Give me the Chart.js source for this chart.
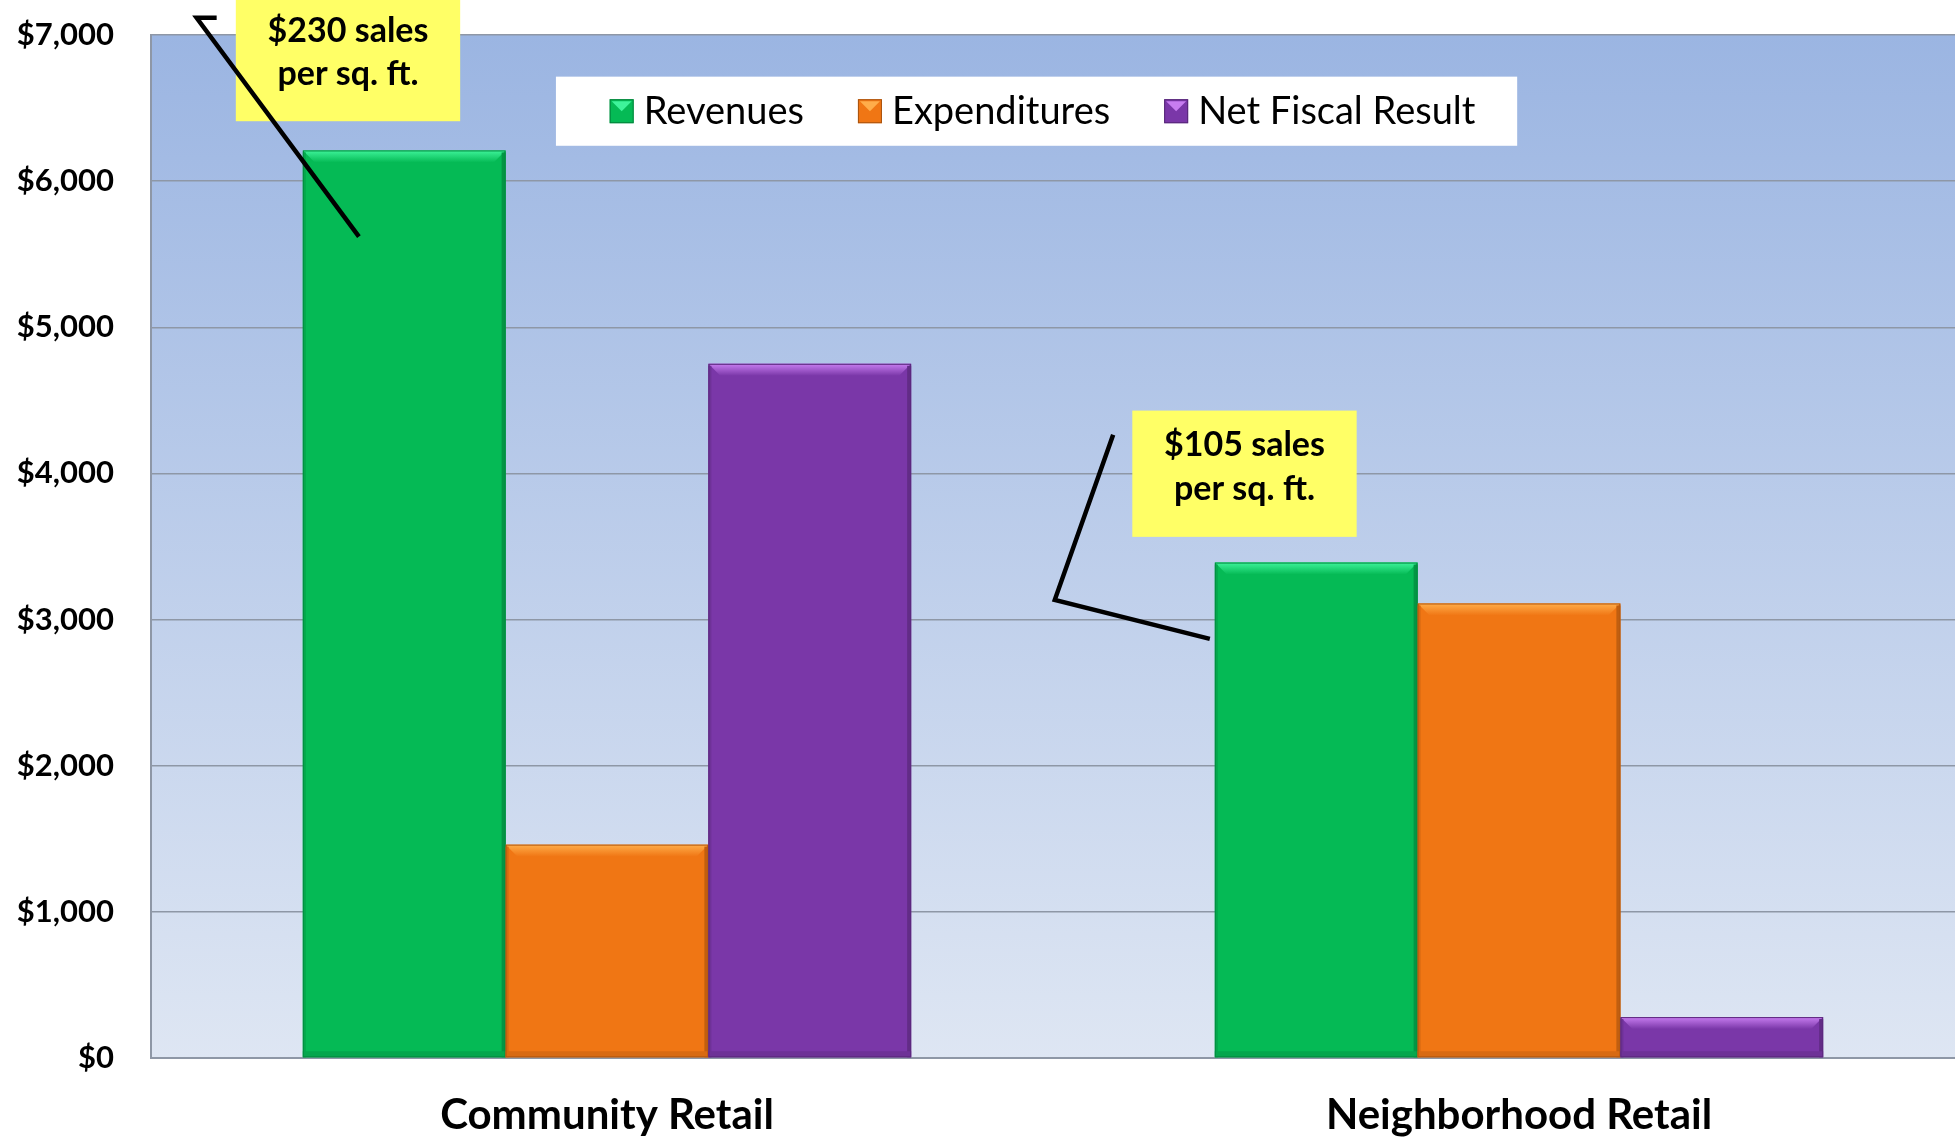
<!DOCTYPE html>
<html>
<head>
<meta charset="utf-8">
<script src="https://cdn.jsdelivr.net/npm/chart.js@4.4.1/dist/chart.umd.min.js"></script>
<style>
  html, body { margin: 0; padding: 0; background: #fff; overflow: hidden; }
  #wrap { width: 1955px; height: 1137px; overflow: hidden; }
</style>
</head>
<body>
<div id="wrap"><canvas id="fiscal-chart" width="1975" height="1137"></canvas></div>
<script>
// Fiscal impact per acre, retail types
const categories = ['Community Retail', 'Neighborhood Retail'];
const seriesNames = ['Revenues', 'Expenditures', 'Net Fiscal Result'];
const revenues = [6210, 3390];
const expenditures = [1460, 3110];
const netFiscal = [4750, 280];
const yMin = 0;
const yMax = 7000;
const yStep = 1000;
const calloutLines = [
    ['$230 sales', 'per sq. ft.'],
    ['$105 sales', 'per sq. ft.']
];

const colors = {
    green: '#05ba55',
    greenLight: '#3ef39a',
    orange: '#f07614',
    orangeLight: '#ffad4a',
    purple: '#7a37a8',
    purpleLight: '#c77df0',
    grid: '#8e97a6',
    plotTop: '#9bb5e2',
    plotBottom: '#dee6f3',
    note: '#ffff66',
    text: '#000'
};
const fontFamily = "Lato, 'Open Sans', sans-serif";

// overlay geometry, in chart units (x = category index, y = dollars)
const callouts = [
    { box: [-0.407, 7260, -0.161, 6410], leader: [[-0.450, 7118], [-0.428, 7118], [-0.450, 7118], [-0.272, 5620]] },
    { box: [0.576, 4430, 0.822, 3566], leader: [[0.555, 4264], [0.491, 3135], [0.661, 2868]] }
];
const legendBox = [-0.056, 6715, 0.998, 6242];

const barColors = [colors.green, colors.orange, colors.purple];
const barLights = [colors.greenLight, colors.orangeLight, colors.purpleLight];

function shade(hex, f) {
    const n = parseInt(hex.slice(1), 16);
    const r = Math.round(((n >> 16) & 255) * f);
    const g = Math.round(((n >> 8) & 255) * f);
    const b = Math.round((n & 255) * f);
    return `rgb(${r},${g},${b})`;
}

// gradient fill behind the plot area
const plotBackground = {
    id: 'plotBackground',
    beforeDraw(chart) {
        const { ctx, chartArea: a } = chart;
        const g = ctx.createLinearGradient(0, a.top, 0, a.bottom);
        g.addColorStop(0, colors.plotTop);
        g.addColorStop(1, colors.plotBottom);
        ctx.save();
        ctx.fillStyle = g;
        ctx.fillRect(a.left, a.top, a.right - a.left, a.bottom - a.top);
        ctx.restore();
    }
};

// bevelled tops and shaded edges on the bars
const bevel = {
    id: 'bevel',
    afterDatasetsDraw(chart) {
        const ctx = chart.ctx;
        chart.data.datasets.forEach((ds, i) => {
            const meta = chart.getDatasetMeta(i);
            meta.data.forEach(bar => {
                const l = bar.x - bar.width / 2, r = bar.x + bar.width / 2;
                const t = bar.y, b = bar.base;
                const d = Math.min(12, (b - t) / 2);
                ctx.save();
                const g = ctx.createLinearGradient(0, t, 0, t + d);
                g.addColorStop(0, barLights[i]);
                g.addColorStop(1, barColors[i]);
                ctx.fillStyle = g;
                ctx.beginPath();
                ctx.moveTo(l, t);
                ctx.lineTo(r, t);
                ctx.lineTo(r - d, t + d);
                ctx.lineTo(l + d, t + d);
                ctx.closePath();
                ctx.fill();
                ctx.fillStyle = shade(barColors[i], 0.8);
                ctx.fillRect(r - 4, t + 2, 4, b - t - 2);
                ctx.fillStyle = shade(barColors[i], 0.9);
                ctx.fillRect(l, t + 2, 3, b - t - 2);
                ctx.fillRect(l, b - 6, r - l, 6);
                ctx.strokeStyle = shade(barColors[i], 0.75);
                ctx.lineWidth = 1;
                ctx.strokeRect(l + 0.5, t + 0.5, r - l - 1, b - t - 1);
                ctx.restore();
            });
        });
    }
};

// legend box inside the plot and the yellow callouts
const overlays = {
    id: 'overlays',
    afterDraw(chart) {
        const { ctx, scales: { x, y } } = chart;
        const px = v => x.getPixelForValue(v);
        const py = v => y.getPixelForValue(v);

        // legend
        const lx0 = px(legendBox[0]), ly0 = py(legendBox[1]);
        const lx1 = px(legendBox[2]), ly1 = py(legendBox[3]);
        ctx.save();
        ctx.fillStyle = '#fff';
        ctx.fillRect(lx0, ly0, lx1 - lx0, ly1 - ly0);
        ctx.font = `38px ${fontFamily}`;
        ctx.textBaseline = 'middle';
        const marker = 24, gap = 10, spacing = 54;
        const widths = seriesNames.map(s => ctx.measureText(s).width);
        const total = widths.reduce((s, w) => s + w + marker + gap, 0) + spacing * (seriesNames.length - 1);
        let cx = (lx0 + lx1) / 2 - total / 2 + 6;
        const cy = (ly0 + ly1) / 2;
        seriesNames.forEach((name, i) => {
            const mt = cy - marker / 2;
            ctx.fillStyle = barColors[i];
            ctx.fillRect(cx, mt, marker, marker);
            ctx.fillStyle = barLights[i];
            ctx.beginPath();
            ctx.moveTo(cx + 2, mt + 2);
            ctx.lineTo(cx + marker - 2, mt + 2);
            ctx.lineTo(cx + marker / 2, mt + marker / 2);
            ctx.closePath();
            ctx.fill();
            ctx.strokeStyle = shade(barColors[i], 0.7);
            ctx.strokeRect(cx + 0.5, mt + 0.5, marker - 1, marker - 1);
            ctx.fillStyle = colors.text;
            ctx.fillText(name, cx + marker + gap, cy + 1);
            cx += marker + gap + widths[i] + spacing;
        });
        ctx.restore();

        // callouts
        callouts.forEach((c, i) => {
            const bx0 = px(c.box[0]), by0 = py(c.box[1]);
            const bx1 = px(c.box[2]), by1 = py(c.box[3]);
            ctx.save();
            ctx.fillStyle = colors.note;
            ctx.fillRect(bx0, by0, bx1 - bx0, by1 - by0);
            ctx.fillStyle = colors.text;
            ctx.font = `bold 34px ${fontFamily}`;
            ctx.textAlign = 'center';
            ctx.textBaseline = 'middle';
            const h = by1 - by0;
            ctx.fillText(calloutLines[i][0], (bx0 + bx1) / 2, by0 + h * 0.27);
            ctx.fillText(calloutLines[i][1], (bx0 + bx1) / 2, by0 + h * 0.62);
            ctx.strokeStyle = '#000';
            ctx.lineWidth = 4.5;
            ctx.lineJoin = 'miter';
            ctx.beginPath();
            c.leader.forEach((p, k) => {
                if (k === 0) ctx.moveTo(px(p[0]), py(p[1]));
                else ctx.lineTo(px(p[0]), py(p[1]));
            });
            ctx.stroke();
            ctx.restore();
        });
    }
};

const ctx = document.getElementById('fiscal-chart');
const chart = new Chart(ctx, {
    type: 'bar',
    data: {
        labels: categories,
        datasets: [
            { label: seriesNames[0], data: revenues, backgroundColor: colors.green },
            { label: seriesNames[1], data: expenditures, backgroundColor: colors.orange },
            { label: seriesNames[2], data: netFiscal, backgroundColor: colors.purple }
        ]
    },
    options: {
        responsive: false,
        animation: false,
        layout: { padding: { top: 35, right: 0, bottom: 0, left: 0 } },
        datasets: {
            bar: { barPercentage: 1, categoryPercentage: 0.667, borderWidth: 0 }
        },
        plugins: {
            legend: { display: false },
            tooltip: { enabled: false }
        },
        scales: {
            x: {
                grid: { display: false, drawTicks: false },
                border: { color: colors.grid, width: 2 },
                ticks: {
                    color: colors.text,
                    padding: 32,
                    font: { family: fontFamily, size: 42, weight: 'bold' }
                },
                afterFit: (scale) => {
                    scale.height = 79;
                    scale.paddingLeft = 0;
                    scale.paddingRight = 0;
                }
            },
            y: {
                min: yMin,
                max: yMax,
                grid: { color: colors.grid, lineWidth: 1.5, drawTicks: false },
                border: { color: colors.grid, width: 2 },
                ticks: {
                    stepSize: yStep,
                    color: colors.text,
                    padding: 37,
                    font: { family: fontFamily, size: 31, weight: 'bold' },
                    callback: (value) => '$' + value.toLocaleString('en-US')
                },
                afterFit: (scale) => {
                    scale.width = 151;
                    scale.paddingTop = 0;
                    scale.paddingBottom = 0;
                }
            }
        }
    },
    plugins: [plotBackground, bevel, overlays]
});
</script>
</body>
</html>
